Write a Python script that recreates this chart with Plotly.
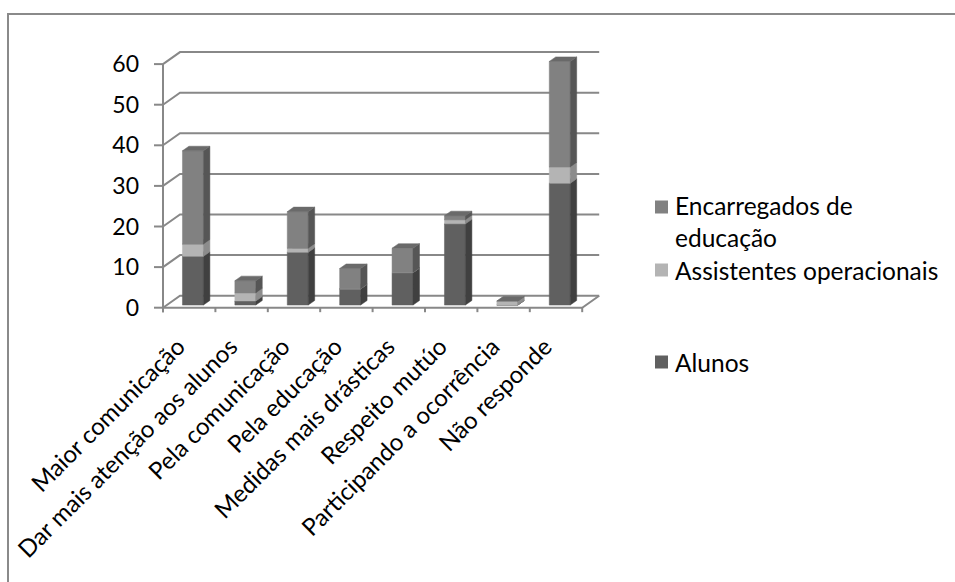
import plotly.graph_objects as go

# ---- data -------------------------------------------------------------
categories = [
    "Maior comunicação",
    "Dar mais atenção aos alunos",
    "Pela comunicação",
    "Pela educação",
    "Medidas mais drásticas",
    "Respeito mutúo",
    "Participando a ocorrência",
    "Não responde",
]
alunos = [12, 1, 13, 4, 8, 20, 0, 30]
assistentes = [3, 2, 1, 0, 0, 1, 1, 4]
encarregados = [23, 3, 9, 5, 6, 1, 0, 26]
y_ticks = [0, 10, 20, 30, 40, 50, 60]

series = [
    ("Alunos", alunos, "#606060", "#404040", "#505050"),
    ("Assistentes operacionais", assistentes, "#b4b4b4", "#8c8c8c", "#a2a2a2"),
    ("Encarregados de<br>educação", encarregados, "#818181", "#565656", "#6a6a6a"),
]

# ---- geometry of the pseudo-3D frame (pixel based) --------------------
W_PX, H_PX = 955, 582
L, R, T, B = 150, 605, 40, 314          # plot area in pixels
X0_PX, CAT_PX = 189.2, 52.4             # first category centre, category step
Y0_PX, UNIT_PX = 307.7, 4.06            # value 0 on the front plane, px per unit
DEPTH_PX = (17.0, 12.0)                 # offset front plane -> back wall
LABEL_SHIFT_PX = -11                    # rotated category labels sit slightly left


def x_of_px(p):
    return (p - X0_PX) / CAT_PX


def y_of_px(p):
    return (Y0_PX - p) / UNIT_PX


DX = DEPTH_PX[0] / CAT_PX
DY = DEPTH_PX[1] / UNIT_PX
X_LEFT, X_RIGHT = -0.5, len(categories) - 0.5
Y_TOP = y_ticks[-1]

LINE = "#888888"

fig = go.Figure()


def add_path(xs, ys, color, width=2):
    fig.add_trace(go.Scatter(x=xs, y=ys, mode="lines",
                             line=dict(color=color, width=width),
                             hoverinfo="skip", showlegend=False))


# back-wall gridlines with their diagonal link to the value axis
gx, gy = [], []
for v in y_ticks:
    gx += [X_LEFT, X_LEFT + DX, X_RIGHT + DX, None]
    gy += [v, v + DY, v + DY, None]
# floor front edge and right edge
gx += [X_LEFT, X_RIGHT, X_RIGHT + DX, None]
gy += [0, 0, DY, None]
# value axis
gx += [X_LEFT, X_LEFT, None]
gy += [-1.1, Y_TOP, None]
# value axis tick marks
tick_dx = 9 / CAT_PX
for v in y_ticks:
    gx += [X_LEFT - tick_dx, X_LEFT, None]
    gy += [v, v, None]
# category tick marks between categories
for k in range(len(categories) + 1):
    gx += [X_LEFT + k, X_LEFT + k, None]
    gy += [0, -1.1, None]
add_path(gx, gy, LINE)

# ---- stacked 3D columns -----------------------------------------------
F1, F2 = 0.22, 0.60        # front / back of the columns as depth fractions
HW = 0.2                   # half width of a column front
ox, oy = F1 * DX, F1 * DY
dx, dy = (F2 - F1) * DX, (F2 - F1) * DY

base = [0] * len(categories)
for name, vals, c_front, c_side, c_top in series:
    fx, fy, sx, sy, tx, ty = [], [], [], [], [], []
    for i, v in enumerate(vals):
        y0, y1 = base[i], base[i] + v
        xl, xr = i - HW + ox, i + HW + ox
        a, b = y0 + oy, y1 + oy
        fx += [xl, xr, xr, xl, xl, None]
        fy += [a, a, b, b, a, None]
        sx += [xr, xr + dx, xr + dx, xr, xr, None]
        sy += [a, a + dy, b + dy, b, a, None]
        tx += [xl, xr, xr + dx, xl + dx, xl, None]
        ty += [b, b, b + dy, b + dy, b, None]
        base[i] = y1
    for xs, ys, col in ((fx, fy, c_front), (sx, sy, c_side), (tx, ty, c_top)):
        fig.add_trace(go.Scatter(x=xs, y=ys, mode="lines", fill="toself",
                                 fillcolor=col, line=dict(color=col, width=0.5),
                                 hoverinfo="skip", showlegend=False))


# ---- legend drawn as text + swatches ----------------------------------
def xp(p):
    return (p - L) / (R - L)


def yp(p):
    return (B - p) / (B - T)


FONT = "Lato, 'Open Sans', sans-serif"
shapes = []
annotations = []
legend_rows = [  # (series index, swatch centre y px, text centre y px)
    (2, 207, 221),
    (1, 270, 270),
    (0, 362, 362),
]
for idx, sq_y, txt_y in legend_rows:
    name, _, c_front, _, _ = series[idx]
    shapes.append(dict(type="rect", xref="paper", yref="paper",
                       x0=xp(655), x1=xp(668), y0=yp(sq_y + 6.5), y1=yp(sq_y - 6.5),
                       fillcolor=c_front, line=dict(width=0)))
    annotations.append(dict(text=name, xref="paper", yref="paper",
                            x=xp(673), y=yp(txt_y), xanchor="left", yanchor="middle",
                            align="left", showarrow=False,
                            font=dict(family=FONT, size=24.5, color="#000000")))

# outer chart frame
shapes.append(dict(type="rect", xref="paper", yref="paper",
                   x0=xp(8), x1=xp(990), y0=yp(620), y1=yp(14),
                   line=dict(color="#8a8a8a", width=2), fillcolor="rgba(0,0,0,0)",
                   layer="below"))

label_pos = [i + LABEL_SHIFT_PX / CAT_PX for i in range(len(categories))]

fig.update_layout(
    width=W_PX, height=H_PX,
    margin=dict(l=L, r=W_PX - R, t=T, b=H_PX - B, pad=0),
    paper_bgcolor="white", plot_bgcolor="white",
    showlegend=False,
    shapes=shapes, annotations=annotations,
    xaxis=dict(range=[x_of_px(L), x_of_px(R)], tickmode="array",
               tickvals=label_pos, ticktext=categories,
               tickangle=-45, ticks="", showgrid=False, zeroline=False,
               showline=False, fixedrange=True, ticklabelstandoff=13,
               tickfont=dict(family=FONT, size=24, color="#000000")),
    yaxis=dict(range=[y_of_px(B), y_of_px(T)], tickmode="array",
               tickvals=y_ticks, ticktext=[str(v) for v in y_ticks],
               ticks="", showgrid=False, zeroline=False, showline=False,
               ticklabelstandoff=10, fixedrange=True,
               tickfont=dict(family=FONT, size=23, color="#000000")),
)

fig.write_html("out.html")
